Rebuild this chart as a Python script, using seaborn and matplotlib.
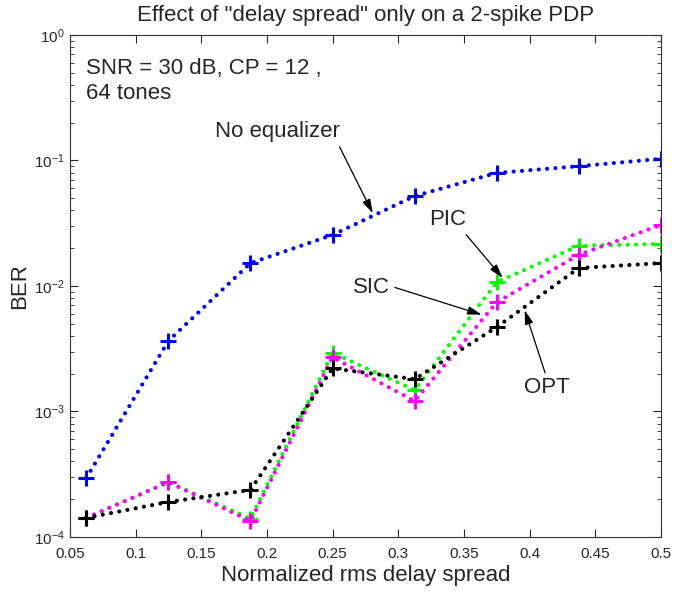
import matplotlib
matplotlib.use("Agg")
import matplotlib.pyplot as plt
import seaborn as sns

# data
delay = [0.0625, 0.125, 0.1875, 0.25, 0.3125, 0.375, 0.4375, 0.5]
no_eq = [2.95e-4, 3.65e-3, 1.52e-2, 2.55e-2, 5.2e-2, 7.95e-2, 9.0e-2, 1.03e-1]
pic = [1.42e-4, 2.73e-4, 1.40e-4, 2.93e-3, 1.48e-3, 1.07e-2, 2.09e-2, 2.16e-2]
sic = [1.42e-4, 2.73e-4, 1.34e-4, 2.70e-3, 1.21e-3, 7.4e-3, 1.77e-2, 3.06e-2]
opt = [1.42e-4, 1.90e-4, 2.37e-4, 2.20e-3, 1.81e-3, 4.7e-3, 1.39e-2, 1.52e-2]

sns.set_style("ticks")
plt.rcParams['font.family'] = ['Liberation Sans', 'DejaVu Sans']

fig = plt.figure(figsize=(6.92, 5.92), dpi=100)
ax = fig.add_axes([0.101, 0.093, 0.854, 0.848])

series = [(no_eq, '#0000ff'), (pic, '#00ff00'), (sic, '#ff00ff'), (opt, '#000000')]
for vals, col in series:
    sns.lineplot(x=delay, y=vals, ax=ax, color=col, linestyle=(0, (0.01, 2.0)),
                 dash_capstyle='round', linewidth=3.0,
                 marker='+', markersize=11, markeredgewidth=2.2, markeredgecolor=col)

ax.set_yscale('log')
ax.set_xlim(0.05, 0.5)
ax.set_ylim(1e-4, 1e0)
ax.set_xticks([0.05, 0.1, 0.15, 0.2, 0.25, 0.3, 0.35, 0.4, 0.45, 0.5])
ax.set_xticklabels(['0.05', '0.1', '0.15', '0.2', '0.25', '0.3', '0.35', '0.4', '0.45', '0.5'])
ax.tick_params(which='both', direction='in', top=True, right=True, labelsize=11)
ax.tick_params(axis='x', pad=7)
ax.tick_params(which='major', length=6)
ax.tick_params(which='minor', length=3)
for s in ax.spines.values():
    s.set_linewidth(0.8)
    s.set_color('#333333')

ax.set_title('Effect of "delay spread" only on a 2-spike PDP', fontsize=16, pad=10)
ax.set_xlabel('Normalized rms delay spread', fontsize=16, labelpad=3)
ax.set_ylabel('BER', fontsize=16, labelpad=3)

ax.text(0.028, 0.955, 'SNR = 30 dB, CP = 12 ,\n64 tones', transform=ax.transAxes,
        fontsize=16, va='top', ha='left', linespacing=1.25)

def arrow(rp):
    return dict(arrowstyle='-|>,head_length=0.6,head_width=0.18', color='black',
                lw=0.9, mutation_scale=14, relpos=rp, shrinkA=1, shrinkB=0)

ax.annotate('No equalizer', xy=(0.2806, 3.8e-2), xytext=(0.208, 1.69e-1),
            fontsize=16, ha='center', va='center', arrowprops=arrow((0.98, 0.0)))
ax.annotate('PIC', xy=(0.3795, 1.16e-2), xytext=(0.3377, 3.36e-2),
            fontsize=16, ha='center', va='center', arrowprops=arrow((0.9, 0.0)))
ax.annotate('SIC', xy=(0.3635, 5.9e-3), xytext=(0.2798, 9.8e-3),
            fontsize=16, ha='center', va='center', arrowprops=arrow((1.0, 0.55)))
ax.annotate('OPT', xy=(0.3963, 6.4e-3), xytext=(0.413, 1.54e-3),
            fontsize=16, ha='center', va='center', arrowprops=arrow((0.5, 1.0)))

fig.savefig('out.png', dpi=100)
